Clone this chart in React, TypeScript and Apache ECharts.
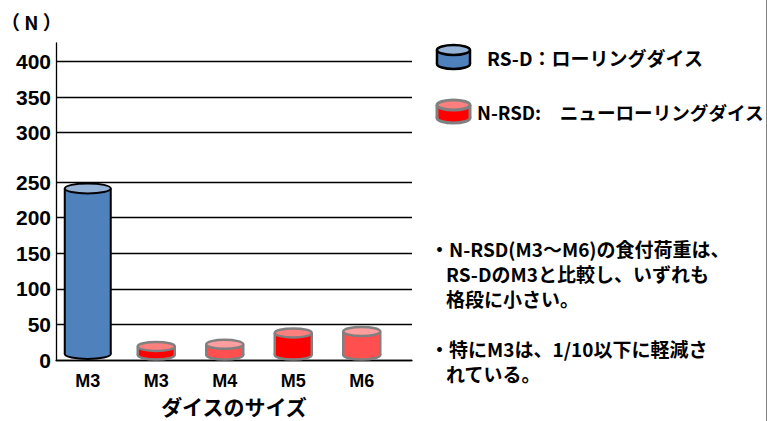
import React, { useEffect, useRef } from 'react';
import * as echarts from 'echarts';

// ---- data ----
const sizeCategories = ['M3', 'M3', 'M4', 'M5', 'M6'];
const rsdLoads: (number | null)[] = [241, null, null, null, null];
const nrsdLoads: (number | null)[] = [null, 19, 22, 38, 40];
const lowerRange = { min: 0, max: 250, interval: 50 };
const upperRange = { min: 300, max: 400, interval: 50 };
const unitLabel = '（ N ）';
const xTitle = 'ダイスのサイズ';
const legendLabels = ['RS-D：ローリングダイス', 'N-RSD:　ニューローリングダイス'];
const noteBullets = [
  ['・N-RSD(M3～M6)の食付荷重は、', 'RS-DのM3と比較し、いずれも', '格段に小さい。'],
  ['・特にM3は、1/10以下に軽減さ', 'れている。'],
];

// ---- styles ----
const LATIN = '"Liberation Sans", Arial, "Noto Sans CJK JP", sans-serif';
const CJK = '"Noto Sans CJK JP", "Liberation Sans", sans-serif';
const rsdLook = { body: ['#4F81BD'], top: ['#95B3D7'], stroke: '#000000', lineWidth: 2, width: 46, ry: 5, lift: 6 };
const nrsdLook = {
  body: ['#FF0000', '#FF4F4F', '#FF0000', '#FF4F4F'],
  top: ['#FF7F7F', '#FF9E9E', '#FF7F7F', '#FF9E9E'],
  stroke: '#808080',
  lineWidth: 2.5,
  width: 37,
  ry: 4.5,
  lift: 5,
};

const toItems = (arr: (number | null)[]) =>
  arr.map((v, i) => (v == null ? null : [i, v])).filter((d) => d !== null) as number[][];

const makeCylinder = (look: any) => (params: any, api: any) => {
  const i = api.value(0);
  const v = api.value(1);
  const top = api.coord([i, v]);
  const base = api.coord([i, 0]);
  const k = params.dataIndex;
  const body = look.body[k % look.body.length];
  const topFill = look.top[k % look.top.length];
  const rx = look.width / 2;
  const cx = top[0];
  const topY = top[1];
  const botY = base[1] - look.lift;
  const s = { stroke: look.stroke, lineWidth: look.lineWidth };
  return {
    type: 'group',
    children: [
      { type: 'ellipse', shape: { cx, cy: botY, rx, ry: look.ry }, style: { fill: body, ...s } },
      { type: 'rect', shape: { x: cx - rx, y: topY, width: look.width, height: Math.max(0, botY - topY) }, style: { fill: body } },
      { type: 'line', shape: { x1: cx - rx, y1: topY, x2: cx - rx, y2: botY }, style: s },
      { type: 'line', shape: { x1: cx + rx, y1: topY, x2: cx + rx, y2: botY }, style: s },
      { type: 'ellipse', shape: { cx, cy: topY, rx, ry: look.ry }, style: { fill: topFill, ...s } },
    ],
  };
};

const iconGroup = (look: any, x: number, yTop: number, h: number) => {
  const w = 33;
  const rx = w / 2;
  const ry = 5;
  const cx = x + rx;
  const t = yTop + ry;
  const b = yTop + h - ry;
  const s = { stroke: look.stroke, lineWidth: look.lineWidth + 0.5 };
  return {
    type: 'group',
    children: [
      { type: 'ellipse', shape: { cx, cy: b, rx, ry }, style: { fill: look.body[0], ...s } },
      { type: 'rect', shape: { x: cx - rx, y: t, width: w, height: b - t }, style: { fill: look.body[0] } },
      { type: 'line', shape: { x1: cx - rx, y1: t, x2: cx - rx, y2: b }, style: s },
      { type: 'line', shape: { x1: cx + rx, y1: t, x2: cx + rx, y2: b }, style: s },
      { type: 'ellipse', shape: { cx, cy: t, rx, ry }, style: { fill: look.top[0], ...s } },
    ],
  };
};

const gridLine = { show: true, lineStyle: { color: '#000000', width: 1.3 } };
const yLabel = { color: '#000', fontSize: 21, fontWeight: 'bold', fontFamily: LATIN, margin: 5 };

export default function App() {
  const ref = useRef<HTMLDivElement>(null);
  useEffect(() => {
    if (!ref.current) return;
    const chart = echarts.init(ref.current, null, { renderer: 'svg' });
    const textEls: any[] = [];
    textEls.push({
      type: 'text',
      style: { text: unitLabel, x: 1, y: 21, fill: '#000', font: `bold 19px ${CJK}`, verticalAlign: 'middle' },
    });
    textEls.push({
      type: 'text',
      style: { text: xTitle, x: 234, y: 406, fill: '#000', font: `bold 21px ${CJK}`, align: 'center', verticalAlign: 'middle' },
    });
    textEls.push(iconGroup(rsdLook, 437, 45, 24));
    textEls.push(iconGroup(nrsdLook, 437, 100, 23));
    textEls.push({
      type: 'text',
      style: { text: legendLabels[0], x: 487, y: 57, fill: '#000', font: `bold 19px ${CJK}`, verticalAlign: 'middle' },
    });
    textEls.push({
      type: 'text',
      style: { text: legendLabels[1], x: 477, y: 111, fill: '#000', font: `bold 18.6px ${CJK}`, verticalAlign: 'middle' },
    });
    const lineYs = [[248, 273, 298], [348, 373]];
    noteBullets.forEach((block, bi) => {
      block.forEach((line, li) => {
        textEls.push({
          type: 'text',
          style: {
            text: line,
            x: li === 0 ? 430 : 446,
            y: lineYs[bi][li],
            fill: '#000',
            font: `bold 19px ${CJK}`,
            verticalAlign: 'middle',
          },
        });
      });
    });
    textEls.push({ type: 'rect', shape: { x: 766, y: 0, width: 1, height: 421 }, style: { fill: '#808080' } });

    chart.setOption({
      animation: false,
      backgroundColor: '#ffffff',
      grid: [
        { left: 56, top: 182, width: 356, height: 178 },
        { left: 56, top: 61.3, width: 356, height: 71.4 },
        { left: 56, top: 43, width: 356, height: 317 },
        { left: 53.5, top: 182, width: 342.5, height: 178 },
      ],
      xAxis: [
        {
          gridIndex: 0,
          type: 'category',
          data: sizeCategories,
          axisLine: { show: true, lineStyle: { color: '#000', width: 1.3 } },
          axisTick: { show: false },
          axisLabel: { show: false },
        },
        { gridIndex: 1, type: 'category', data: sizeCategories, show: false },
        { gridIndex: 2, type: 'category', data: sizeCategories, show: false },
        {
          gridIndex: 3,
          type: 'category',
          data: sizeCategories,
          axisLine: { show: false },
          axisTick: { show: false },
          axisLabel: { color: '#000', fontSize: 18, fontWeight: 'bold', fontFamily: LATIN, margin: 12 },
        },
      ],
      yAxis: [
        {
          gridIndex: 0,
          type: 'value',
          ...lowerRange,
          axisLine: { show: false },
          axisTick: { show: false },
          splitLine: gridLine,
          axisLabel: yLabel,
        },
        {
          gridIndex: 1,
          type: 'value',
          ...upperRange,
          axisLine: { show: false },
          axisTick: { show: false },
          splitLine: gridLine,
          axisLabel: yLabel,
        },
        {
          gridIndex: 2,
          type: 'value',
          min: 0,
          max: 1,
          axisLine: { show: true, lineStyle: { color: '#000', width: 1.3 } },
          axisTick: { show: false },
          splitLine: { show: false },
          axisLabel: { show: false },
        },
        { gridIndex: 3, type: 'value', ...lowerRange, show: false, splitLine: { show: false } },
      ],
      series: [
        {
          name: 'RS-D',
          type: 'custom',
          xAxisIndex: 3,
          yAxisIndex: 3,
          clip: false,
          encode: { x: 0, y: 1 },
          data: toItems(rsdLoads),
          renderItem: makeCylinder(rsdLook),
        },
        {
          name: 'N-RSD',
          type: 'custom',
          xAxisIndex: 3,
          yAxisIndex: 3,
          clip: false,
          encode: { x: 0, y: 1 },
          data: toItems(nrsdLoads),
          renderItem: makeCylinder(nrsdLook),
        },
      ],
      graphic: textEls,
    });
    return () => chart.dispose();
  }, []);
  return (
    <div
      ref={ref}
      style={{ position: 'fixed', left: 0, top: 0, width: 767, height: 421, background: '#fff' }}
    />
  );
}
